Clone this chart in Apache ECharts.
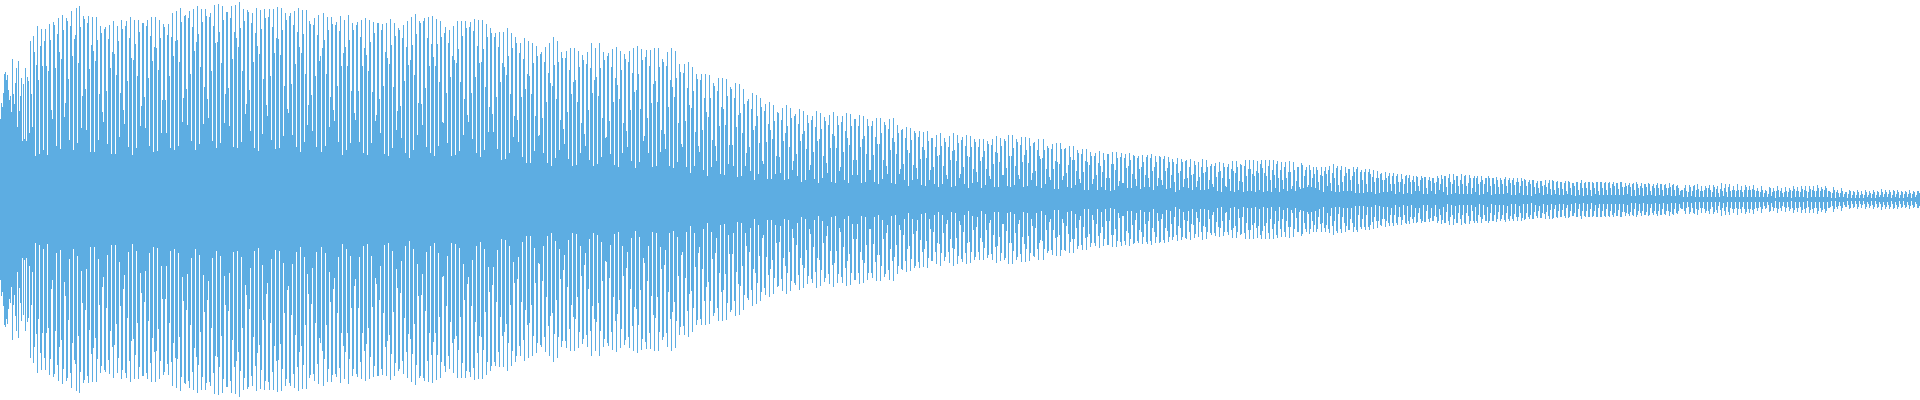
<!DOCTYPE html>
<html><head><meta charset="utf-8">
<style>html,body{margin:0;padding:0;background:#fff}#c{width:1920px;height:400px}</style>
<script src="https://cdn.jsdelivr.net/npm/echarts@6/dist/echarts.min.js"></script>
</head><body><div id="c"></div>
<script>
// Peak amplitude of the waveform for each of the 1920 time columns (symmetric about zero)
const amplitude = [
81,97,93,107,126,128,120,125,110,100,104,88,141,106,96,117,132,73,139,89,104,122,59,116,61,132,59,123,119,67,159,106,73,164,148,44,135,174,120,46,
154,171,134,50,159,171,134,45,129,176,160,90,81,178,175,132,54,166,182,148,51,141,185,170,83,97,182,179,121,60,174,189,144,50,161,165,192,57,137,194,
173,72,104,184,181,111,70,177,184,131,48,155,183,149,48,139,183,160,60,106,174,167,88,78,171,173,109,56,161,175,132,46,148,179,146,46,125,174,159,63,
107,180,171,90,76,174,179,119,53,162,183,142,45,140,180,156,52,124,180,168,74,94,177,177,103,72,174,180,122,54,164,183,139,48,153,183,152,49,130,180,
162,67,100,176,173,100,67,165,176,124,52,163,187,144,50,159,189,160,54,138,192,178,78,102,184,185,111,75,182,189,126,59,173,191,149,50,158,194,166,56,
133,191,178,76,113,191,184,101,82,183,187,129,59,174,195,157,52,158,196,168,57,137,194,180,77,106,188,188,112,74,182,194,141,53,168,195,162,52,153,198,
172,58,129,191,179,86,96,190,188,110,69,177,187,138,52,167,192,154,49,146,190,171,66,121,191,182,95,84,183,191,124,60,173,191,147,51,162,193,161,52,
145,192,170,64,114,187,180,91,87,184,187,116,65,175,189,136,53,168,192,153,48,147,190,166,58,126,190,75,95,179,176,105,69,175,182,124,53,165,185,139,
144,48,152,187,160,54,126,183,170,73,103,183,176,90,79,175,178,114,58,169,184,134,45,147,180,153,50,134,185,160,57,109,177,170,87,80,175,178,109,58,
163,180,134,47,152,182,145,45,129,180,158,57,108,178,167,79,85,177,177,101,67,170,176,114,46,148,177,142,44,136,181,155,52,113,177,164,70,89,172,170,
94,62,162,175,119,47,153,179,135,42,140,183,155,50,125,186,166,65,97,179,177,96,75,179,182,112,53,162,183,134,47,156,184,143,44,134,181,156,54,118,
179,163,78,77,167,173,107,57,157,170,123,44,144,174,140,45,137,179,151,49,118,179,164,65,101,179,172,85,78,173,178,107,61,169,181,123,47,154,180,137,
43,138,180,151,50,113,176,163,68,93,172,167,86,68,163,167,103,51,153,168,118,40,137,168,133,41,125,172,144,47,106,167,152,63,84,163,157,80,58,147,
157,103,43,141,162,111,37,126,159,124,37,106,157,137,49,84,154,144,64,65,146,148,82,47,138,153,98,37,127,157,117,34,114,163,135,42,101,159,138,50,
80,148,142,71,56,142,149,88,41,130,152,106,34,118,152,120,35,98,149,133,47,77,145,140,66,54,136,148,90,40,132,157,107,34,120,152,123,36,104,157,
132,43,82,148,140,62,63,144,147,79,46,133,151,98,35,122,153,115,33,101,149,130,47,77,146,141,69,53,138,149,90,39,127,152,108,32,110,154,126,38,
91,151,140,59,64,143,150,82,47,134,150,97,33,116,152,119,34,98,152,133,48,70,141,138,66,51,134,148,93,34,120,152,113,32,103,149,122,38,77,136,
128,56,53,127,136,79,33,112,138,95,27,92,133,109,34,68,126,121,54,48,120,126,70,30,102,126,88,24,83,125,102,33,60,117,114,54,39,109,122,74,
26,93,122,91,25,75,121,104,36,55,113,111,55,34,102,117,73,23,85,116,87,24,67,111,96,34,47,99,101,53,29,91,107,70,20,74,105,84,26,57,
102,93,39,36,89,96,58,21,76,98,70,21,61,95,79,26,44,88,87,43,27,80,92,59,20,67,95,74,21,53,92,82,30,39,84,86,46,24,76,91,
59,18,66,89,69,20,51,85,77,30,35,80,84,48,21,73,89,59,17,61,87,71,22,44,83,79,37,27,75,85,52,18,66,88,64,17,52,84,75,29,
33,78,84,48,20,69,87,62,17,55,86,74,25,40,81,81,40,25,74,85,53,17,61,84,64,18,46,81,74,30,30,74,79,45,18,63,82,56,16,56,
82,67,21,40,78,75,34,26,71,81,50,17,62,82,58,16,46,75,67,26,31,70,71,36,20,62,73,50,14,47,72,60,20,35,69,67,32,21,63,69,
41,15,53,68,50,14,42,69,59,20,30,62,62,33,16,53,65,44,13,45,67,54,16,34,62,58,25,21,53,64,40,13,49,67,50,14,39,65,57,22,
26,60,63,33,16,54,65,44,12,43,64,53,17,31,61,58,28,18,53,61,39,12,43,61,49,15,31,59,56,24,21,55,61,36,13,48,64,47,13,38,
62,54,25,25,61,59,32,14,65,44,13,44,65,52,15,34,61,58,25,21,55,63,38,13,45,63,50,14,37,62,54,20,27,57,58,29,14,50,61,44,
41,12,42,61,50,16,31,54,52,23,20,51,56,31,11,39,57,38,11,36,57,51,20,24,51,52,27,13,35,54,43,12,40,54,40,15,29,50,47,21,
17,46,51,28,10,39,51,38,10,35,48,44,16,21,44,47,25,10,37,49,34,13,28,47,40,10,22,46,46,22,9,36,48,36,10,30,48,42,14,19,
43,47,17,17,42,46,32,12,34,47,40,12,26,45,44,21,14,42,44,31,11,33,45,38,13,25,43,45,22,13,42,46,29,10,33,44,38,14,22,44,
43,20,15,41,44,29,11,32,43,38,12,25,41,38,18,8,36,42,27,10,29,41,38,13,21,39,40,22,12,33,41,25,10,26,39,35,13,19,38,23,
10,33,41,27,10,28,40,33,11,20,34,36,16,13,34,37,23,9,28,38,29,8,22,37,33,14,13,33,36,21,9,31,39,29,8,27,39,33,10,19,
36,35,18,8,34,40,24,9,31,40,31,9,26,40,24,8,29,39,27,10,36,40,32,8,27,40,24,9,34,40,20,8,30,40,25,12,36,39,22,8,
30,38,20,11,33,38,22,9,28,39,28,11,14,38,30,9,19,33,33,13,11,37,35,12,24,30,33,13,15,35,30,13,22,33,26,12,33,30,18,10,
25,33,24,8,29,33,26,14,30,34,17,9,27,36,22,8,32,34,15,8,30,34,18,9,24,33,27,9,31,31,20,9,24,33,28,7,31,33,16,7,
28,30,20,7,28,31,16,8,28,31,26,8,23,30,18,6,22,29,22,7,26,27,20,8,20,28,22,8,24,27,16,9,24,27,16,6,24,26,18,8,
18,26,21,6,16,24,25,7,22,25,18,6,20,24,18,9,24,23,14,9,20,24,22,6,23,23,12,6,20,23,19,9,22,22,17,6,18,24,22,10,
16,25,21,8,24,24,13,5,22,26,18,6,16,26,20,7,24,24,14,6,20,26,16,6,24,25,14,6,17,25,22,6,12,22,24,8,22,24,16,5,
18,24,20,6,16,22,22,8,24,22,14,5,22,22,16,6,23,20,13,6,22,20,16,6,21,23,14,7,20,22,17,5,20,22,15,5,18,22,18,7,
14,22,19,5,21,20,14,5,18,20,16,4,20,20,13,6,17,19,12,7,19,19,14,5,15,20,13,6,17,20,11,5,20,19,10,6,18,19,12,5,
18,18,11,5,17,19,9,6,19,18,12,5,17,17,14,4,18,18,10,5,17,20,12,4,17,18,12,5,18,18,10,4,18,17,12,6,18,18,9,5,
18,18,12,5,17,18,10,5,17,18,12,5,16,18,14,5,17,17,11,5,18,18,13,5,13,17,14,6,15,17,13,4,16,17,10,4,18,16,12,5,
14,17,12,4,16,16,13,5,17,16,9,5,14,16,12,4,15,17,12,5,16,16,10,4,15,16,12,5,12,17,13,4,15,16,10,4,14,15,12,5,
9,10,10,3,12,15,9,3,8,15,13,4,9,14,15,3,10,16,11,3,9,14,9,3,10,14,12,3,12,15,10,3,8,15,13,3,11,14,7,3,
11,17,9,4,12,16,8,3,13,16,9,3,10,14,10,3,9,16,10,3,10,14,8,3,10,15,13,3,10,14,10,3,11,15,10,3,9,12,9,3,
8,14,10,3,7,10,9,3,6,13,12,4,8,12,9,2,9,14,10,3,9,12,7,3,8,13,9,3,8,12,10,2,9,14,11,3,9,13,9,3,
8,14,11,3,10,14,9,2,8,14,11,3,10,14,9,3,9,15,12,3,9,13,11,3,10,14,12,3,9,9,8,2,7,13,10,2,8,10,7,3,
7,12,9,3,6,8,8,2,6,10,9,2,5,9,8,2,5,10,8,2,5,9,6,2,5,10,8,3,5,9,7,2,6,10,8,2,5,9,8,3,
5,11,8,3,6,10,8,3,6,10,8,2,5,10,9,3,6,10,8,2,5,9,8,2,6,9,8,3,6,10,7,2,6,9,8,3,5,9,9,7
];
const columns = Array.from({length: 1920}, (_, i) => i);
const lower = amplitude.map(v => -v);
const waveColor = '#5dade2';

const chart = echarts.init(document.getElementById('c'), null, {renderer: 'canvas'});
chart.setOption({
  animation: false,
  backgroundColor: '#ffffff',
  grid: {left: 0, right: 0, top: 0, bottom: 0, containLabel: false},
  tooltip: {show: false},
  xAxis: {type: 'category', data: columns, show: false, boundaryGap: true},
  yAxis: [
    {type: 'value', min: -200, max: 200, show: false},
    {type: 'value', min: -201, max: 199, show: false}
  ],
  series: [
    {type: 'bar', data: amplitude, yAxisIndex: 0, barWidth: 1, barGap: '-100%', silent: true,
     itemStyle: {color: waveColor}},
    {type: 'bar', data: lower, yAxisIndex: 1, barWidth: 1, barGap: '-100%', silent: true,
     itemStyle: {color: waveColor}}
  ]
});
</script>
</body></html>
